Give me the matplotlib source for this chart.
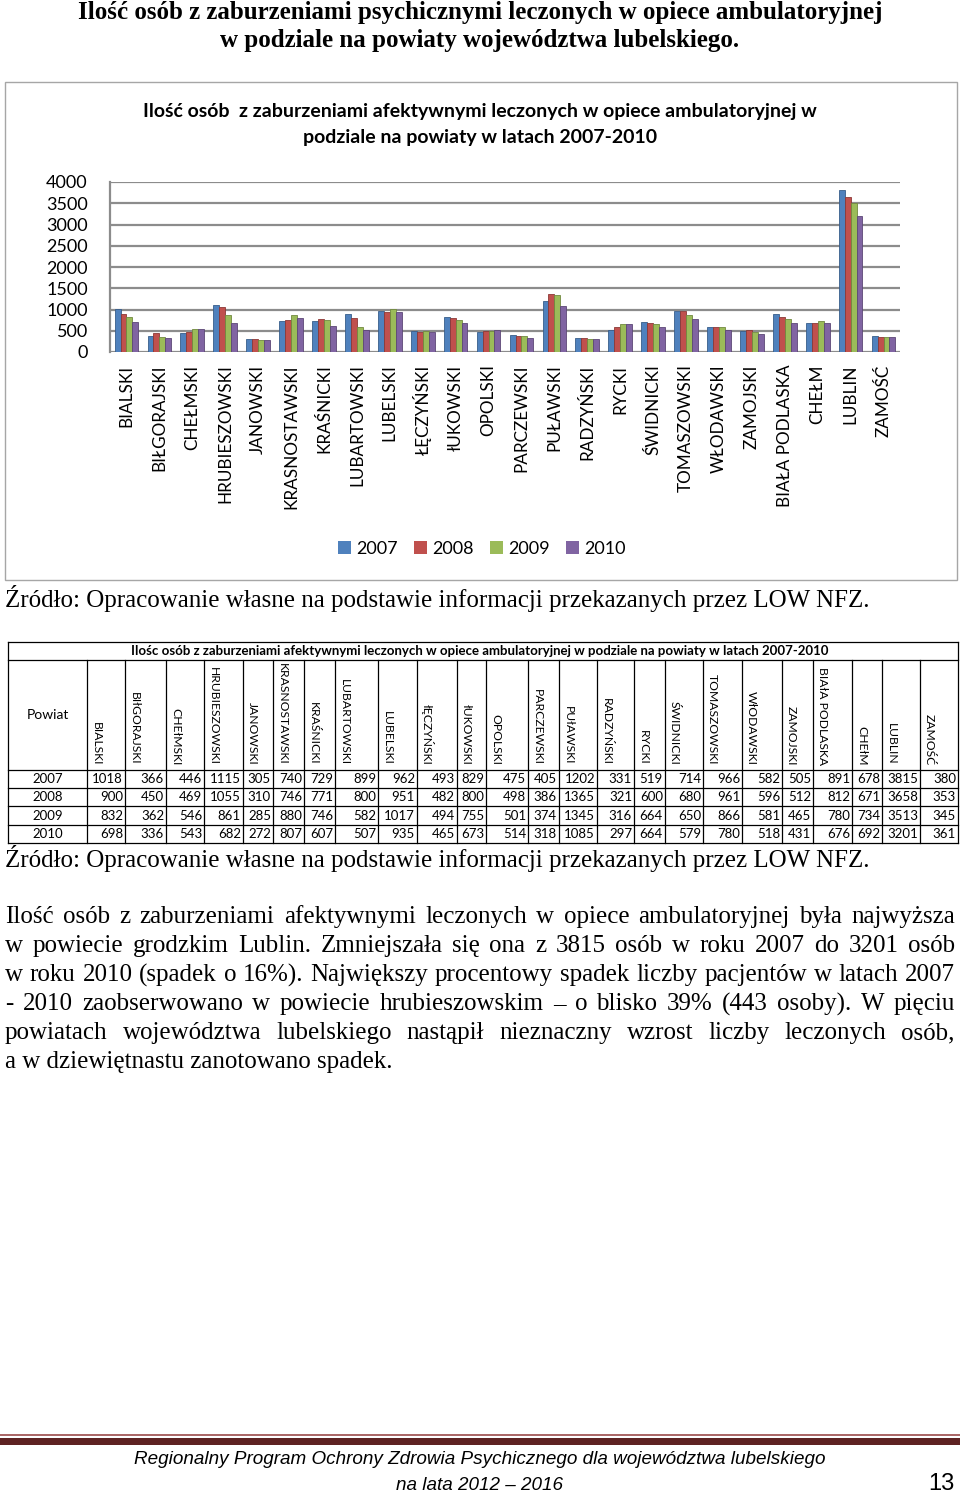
import numpy as np
import matplotlib
matplotlib.use('Agg')
import matplotlib.pyplot as plt
from matplotlib.patches import Patch, Rectangle

# --- dane ---
powiaty_wykres = ['BIALSKI', 'BIŁGORAJSKI', 'CHEŁMSKI', 'HRUBIESZOWSKI', 'JANOWSKI',
                  'KRASNOSTAWSKI', 'KRAŚNICKI', 'LUBARTOWSKI', 'LUBELSKI', 'ŁĘCZYŃSKI',
                  'łUKOWSKI', 'OPOLSKI', 'PARCZEWSKI', 'PUŁAWSKI', 'RADZYŃSKI', 'RYCKI',
                  'ŚWIDNICKI', 'TOMASZOWSKI', 'WŁODAWSKI', 'ZAMOJSKI', 'BIAŁA PODLASKA',
                  'CHEŁM', 'LUBLIN', 'ZAMOŚĆ']
powiaty_tabela = ['BIALSKI', 'BIłGORAJSKI', 'CHEłMSKI', 'HRUBIESZOWSKI', 'JANOWSKI',
                  'KRASNOSTAWSKI', 'KRAŚNICKI', 'LUBARTOWSKI', 'LUBELSKI', 'łĘCZYŃSKI',
                  'łUKOWSKI', 'OPOLSKI', 'PARCZEWSKI', 'PUłAWSKI', 'RADZYŃSKI', 'RYCKI',
                  'ŚWIDNICKI', 'TOMASZOWSKI', 'WłODAWSKI', 'ZAMOJSKI', 'BIAłA PODLASKA',
                  'CHEłM', 'LUBLIN', 'ZAMOŚĆ']
lata = ['2007', '2008', '2009', '2010']
v2007 = [1018, 366, 446, 1115, 305, 740, 729, 899, 962, 493, 829, 475, 405, 1202, 331, 519, 714, 966, 582, 505, 891, 678, 3815, 380]
v2008 = [900, 450, 469, 1055, 310, 746, 771, 800, 951, 482, 800, 498, 386, 1365, 321, 600, 680, 961, 596, 512, 812, 671, 3658, 353]
v2009 = [832, 362, 546, 861, 285, 880, 746, 582, 1017, 494, 755, 501, 374, 1345, 316, 664, 650, 866, 581, 465, 780, 734, 3513, 345]
v2010 = [698, 336, 543, 682, 272, 807, 607, 507, 935, 465, 673, 514, 318, 1085, 297, 664, 579, 780, 518, 431, 676, 692, 3201, 361]
serie = [v2007, v2008, v2009, v2010]
kolory = ['#4F81BD', '#C0504D', '#9BBB59', '#8064A2']
krawedzie = ['#385D8A', '#8C3836', '#71893F', '#5C4776']

akapit = [
    'Ilość osób z zaburzeniami afektywnymi leczonych w opiece ambulatoryjnej była najwyższa',
    'w powiecie grodzkim Lublin. Zmniejszała się ona z 3815 osób w roku 2007 do 3201 osób',
    'w roku 2010 (spadek o 16%). Największy procentowy spadek liczby pacjentów w latach 2007',
    '- 2010 zaobserwowano w powiecie hrubieszowskim – o blisko 39% (443 osoby). W pięciu',
    'powiatach województwa lubelskiego nastąpił nieznaczny wzrost liczby leczonych osób,',
    'a w dziewiętnastu zanotowano spadek.',
]

W, H = 960, 1495
sans = ['Lato', 'DejaVu Sans']
serif = ['Liberation Serif', 'DejaVu Serif']
narrow = ['Liberation Sans Narrow', 'Liberation Sans']
fs_serif = 18

fig = plt.figure(figsize=(9.6, 14.95), dpi=100)
page = fig.add_axes([0, 0, 1, 1])
page.set_xlim(0, W)
page.set_ylim(H, 0)
page.axis('off')

# tytul strony
page.text(480, 12, 'Ilość osób z zaburzeniami psychicznymi leczonych w opiece ambulatoryjnej',
          ha='center', va='center', fontsize=18, fontweight='bold', family=serif)
page.text(480, 41, 'w podziale na powiaty województwa lubelskiego.',
          ha='center', va='center', fontsize=18, fontweight='bold', family=serif)

# ramka wykresu
page.add_patch(Rectangle((5, 82), 952, 498, fill=False, edgecolor='#a6a6a6', lw=1))
page.text(480, 112, 'Ilość osób  z zaburzeniami afektywnymi leczonych w opiece ambulatoryjnej w',
          ha='center', va='center', fontsize=14, fontweight='bold', family=sans)
page.text(480, 138, 'podziale na powiaty w latach 2007-2010',
          ha='center', va='center', fontsize=14, fontweight='bold', family=sans)

# wykres
ax = fig.add_axes([110 / W, 1 - 352 / H, 790 / W, 170 / H])
ax.set_facecolor('none')
x = np.arange(len(powiaty_wykres))
bw = 0.18
for i in range(4):
    ax.bar(x + (i - 1.5) * bw, serie[i], bw, color=kolory[i], edgecolor=krawedzie[i],
           linewidth=0.6, label=lata[i], zorder=3)
ax.set_xlim(-0.5, len(powiaty_wykres) - 0.5)
ax.set_ylim(0, 4000)
ax.set_yticks(np.arange(0, 4001, 500))
ax.yaxis.grid(True, color='#8c8c8c', linewidth=1.6, zorder=0)
ax.set_xticks(x)
ax.set_xticklabels(powiaty_wykres, rotation=90, fontsize=12.3, family=sans)
for lab in ax.get_yticklabels():
    lab.set_family(sans)
ax.tick_params(axis='y', labelsize=13, length=0, pad=16)
ax.tick_params(axis='x', length=0, pad=9)
for s in ['top', 'right', 'bottom']:
    ax.spines[s].set_visible(False)
ax.spines['left'].set_color('#8c8c8c')
ax.spines['left'].set_linewidth(1.6)

uchwyty = [Patch(facecolor=kolory[i], edgecolor='none', label=lata[i]) for i in range(4)]
fig.legend(handles=uchwyty, loc='center', bbox_to_anchor=(482 / W, 1 - 549 / H), ncol=4,
           frameon=False, prop={'family': sans, 'size': 13}, handlelength=0.7,
           handleheight=0.7, handletextpad=0.3, columnspacing=0.9)

zrodlo = 'Źródło: Opracowanie własne na podstawie informacji przekazanych przez LOW NFZ.'
page.text(5, 599, zrodlo, ha='left', va='center', fontsize=fs_serif, family=serif)

# tabela
kol_x = [8, 87, 125, 166, 204, 243, 273, 304, 335, 378, 417, 457, 486, 528, 559, 597,
         634, 665, 703, 742, 782, 813, 852, 882, 920, 958]
wiersze_y = [642, 660, 770, 788, 806, 825, 843]
lw_t = 0.9
for yy in wiersze_y:
    page.plot([kol_x[0], kol_x[-1]], [yy, yy], color='black', lw=lw_t)
page.plot([kol_x[0], kol_x[0]], [642, 843], color='black', lw=lw_t)
page.plot([kol_x[-1], kol_x[-1]], [642, 843], color='black', lw=lw_t)
for xx in kol_x[1:-1]:
    page.plot([xx, xx], [660, 843], color='black', lw=lw_t)
page.text(480, 651, 'Ilośc osób z zaburzeniami afektywnymi leczonych w opiece ambulatoryjnej w podziale na powiaty w latach 2007-2010',
          ha='center', va='center', fontsize=9.5, fontweight='bold', family=sans)
page.text(48, 715, 'Powiat', ha='center', va='center', fontsize=10, family=sans)
for j, nazwa in enumerate(powiaty_tabela):
    page.text(kol_x[j + 1] + 4, 765, nazwa, rotation=270, ha='left', va='bottom',
              fontsize=8.7, family=sans)
for r in range(4):
    yc = (wiersze_y[r + 2] + wiersze_y[r + 3]) / 2
    page.text(48, yc, lata[r], ha='center', va='center', fontsize=9.5, family=sans)
    for j in range(len(powiaty_tabela)):
        page.text(kol_x[j + 2] - 2, yc, str(serie[r][j]), ha='right', va='center',
                  fontsize=9.5, family=sans)

page.text(5, 859, zrodlo, ha='left', va='center', fontsize=fs_serif, family=serif)

# akapit wyjustowany
fig.canvas.draw()
rend = fig.canvas.get_renderer()
for k, linia in enumerate(akapit):
    yy = 917 + k * 29
    if k == len(akapit) - 1:
        page.text(5, yy, linia, ha='left', va='center', fontsize=fs_serif, family=serif)
        continue
    slowa = linia.split(' ')
    teksty = [page.text(0, yy, s, ha='left', va='center', fontsize=fs_serif, family=serif) for s in slowa]
    szer = [t.get_window_extent(rend).width for t in teksty]
    odstep = (955 - 5 - sum(szer)) / (len(slowa) - 1)
    xx = 5
    for t, s in zip(teksty, szer):
        t.set_x(xx)
        xx += s + odstep

# stopka
page.plot([0, W], [1435, 1435], color='#9b4a4a', lw=1.2)
page.add_patch(Rectangle((0, 1438), W, 7, color='#5e2222', lw=0))
page.text(480, 1459, 'Regionalny Program Ochrony Zdrowia Psychicznego dla województwa lubelskiego',
          ha='center', va='center', fontsize=13.6, style='italic', family=narrow)
page.text(480, 1485, 'na lata 2012 – 2016', ha='center', va='center', fontsize=13.6,
          style='italic', family=narrow)
page.text(955, 1484, '13', ha='right', va='center', fontsize=17, family=narrow)

fig.savefig('out.png', dpi=100)
